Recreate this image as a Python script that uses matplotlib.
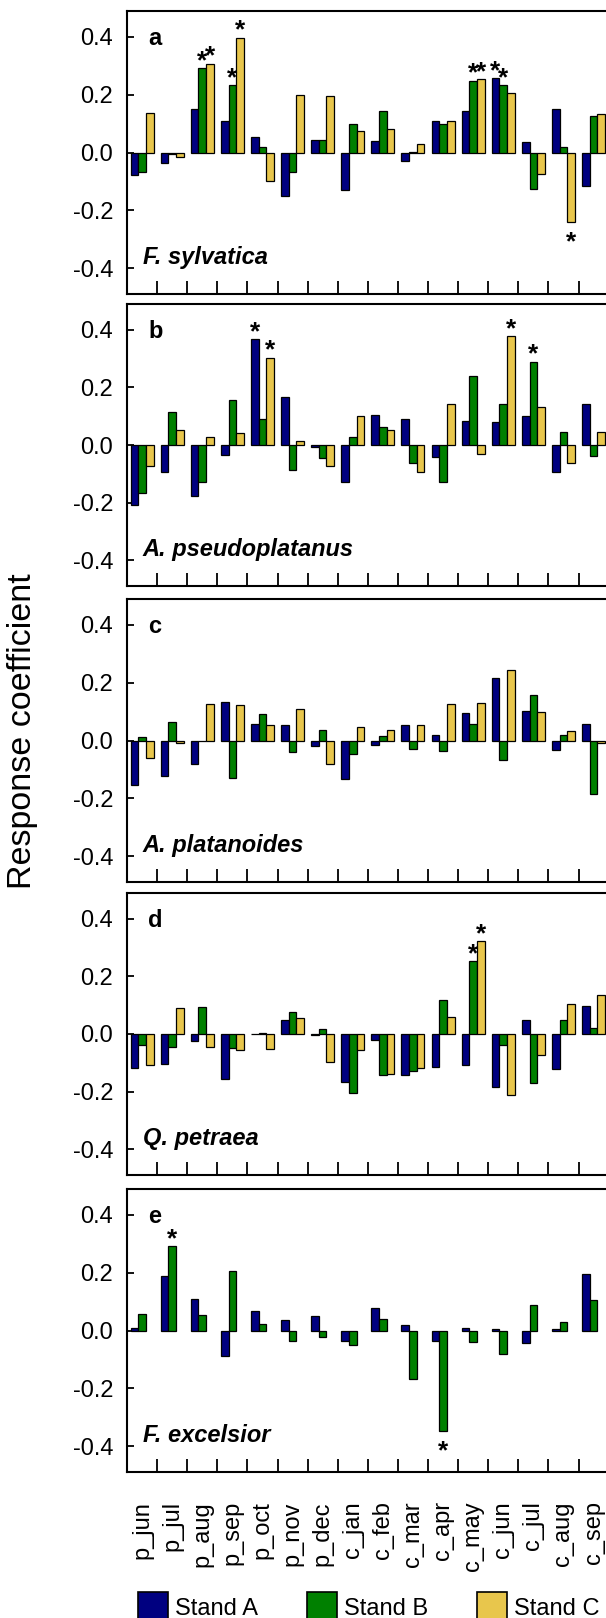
import numpy as np
import matplotlib
matplotlib.use("Agg")
import matplotlib.pyplot as plt
from matplotlib.patches import Rectangle

plt.rcParams['font.family'] = ['Liberation Sans', 'DejaVu Sans']

months = ["p_jun", "p_jul", "p_aug", "p_sep", "p_oct", "p_nov", "p_dec", "c_jan",
          "c_feb", "c_mar", "c_apr", "c_may", "c_jun", "c_jul", "c_aug", "c_sep"]
series_names = ["Stand A", "Stand B", "Stand C"]
series_colors = ["#000080", "#008000", "#E8C64C"]
panel_letters = ["a", "b", "c", "d", "e"]
species = ["F. sylvatica", "A. pseudoplatanus", "A. platanoides", "Q. petraea", "F. excelsior"]

# panel a: F. sylvatica
a_A = [-0.078, -0.035, 0.149, 0.110, 0.053, -0.151, 0.045, -0.131, 0.039, -0.030, 0.110, 0.145, 0.257, 0.036, 0.151, -0.116]
a_B = [-0.069, -0.004, 0.291, 0.233, 0.020, -0.069, 0.045, 0.097, 0.143, 0.002, 0.097, 0.249, 0.233, -0.128, 0.018, 0.126]
a_C = [0.137, -0.016, 0.308, 0.398, -0.099, 0.198, 0.195, 0.074, 0.083, 0.029, 0.110, 0.253, 0.206, -0.073, -0.240, 0.135]
# panel b: A. pseudoplatanus
b_A = [-0.209, -0.093, -0.177, -0.034, 0.368, 0.166, -0.008, -0.130, 0.104, 0.089, -0.043, 0.082, 0.079, 0.102, -0.094, 0.141]
b_B = [-0.166, 0.114, -0.130, 0.158, 0.089, -0.088, -0.046, 0.029, 0.061, -0.064, -0.130, 0.241, 0.144, 0.290, 0.044, -0.037]
b_C = [-0.072, 0.051, 0.027, 0.043, 0.304, 0.015, -0.072, 0.102, 0.051, -0.093, 0.143, -0.030, 0.379, 0.131, -0.064, 0.044]
# panel c: A. platanoides
c_A = [-0.155, -0.124, -0.081, 0.135, 0.057, 0.054, -0.020, -0.134, -0.016, 0.055, 0.018, 0.095, 0.216, 0.102, -0.034, 0.058]
c_B = [0.013, 0.064, 0.000, -0.129, 0.091, -0.039, 0.036, -0.046, 0.017, -0.030, -0.036, 0.058, -0.066, 0.156, 0.020, -0.184]
c_C = [-0.059, -0.008, 0.128, 0.124, 0.054, 0.109, -0.080, 0.046, 0.035, 0.055, 0.126, 0.131, 0.244, 0.098, 0.032, -0.008]
# panel d: Q. petraea
d_A = [-0.118, -0.104, -0.026, -0.157, 0.000, 0.048, -0.005, -0.166, -0.022, -0.143, -0.113, -0.106, -0.184, 0.049, -0.122, 0.099]
d_B = [-0.037, -0.045, 0.093, -0.048, 0.002, 0.077, 0.019, -0.206, -0.141, -0.127, 0.117, 0.252, -0.038, -0.171, 0.049, 0.021]
d_C = [-0.106, 0.092, -0.045, -0.057, -0.052, 0.057, -0.096, -0.055, -0.139, -0.119, 0.059, 0.322, -0.211, -0.073, 0.104, 0.135]
# panel e: F. excelsior (no Stand C)
e_A = [0.008, 0.189, 0.110, -0.087, 0.067, 0.037, 0.051, -0.038, 0.078, 0.020, -0.038, 0.008, 0.005, -0.044, 0.005, 0.197]
e_B = [0.056, 0.292, 0.052, 0.206, 0.022, -0.037, -0.021, -0.049, 0.041, -0.167, -0.347, -0.039, -0.080, 0.088, 0.031, 0.107]

panel_data = [[a_A, a_B, a_C], [b_A, b_B, b_C], [c_A, c_B, c_C], [d_A, d_B, d_C], [e_A, e_B, None]]

# significance stars: (month index, series index)
a_stars = [(2, 1), (2, 2), (3, 1), (3, 2), (11, 1), (11, 2), (12, 0), (12, 1), (14, 2)]
b_stars = [(4, 0), (4, 2), (12, 2), (13, 1)]
c_stars = []
d_stars = [(11, 1), (11, 2)]
e_stars = [(1, 1), (10, 1)]
panel_stars = [a_stars, b_stars, c_stars, d_stars, e_stars]

yticks = [-0.4, -0.2, 0.0, 0.2, 0.4]

W, H = 606, 1618
fig = plt.figure(figsize=(W / 100, H / 100), dpi=100)

panel_px = [(11, 294), (304, 586), (599, 882), (893, 1175), (1189, 1472)]
left_px, right_px = 127, 608.6
FS = 17
x = np.arange(len(months))
bw = 0.255
offsets = [-bw, 0.0, bw]

for p, (top, bot) in enumerate(panel_px):
    ax = fig.add_axes([left_px / W, 1 - bot / H, (right_px - left_px) / W, (bot - top) / H])
    for s in range(3):
        vals = panel_data[p][s]
        if vals is None:
            continue
        ax.bar(x + offsets[s], vals, width=bw, color=series_colors[s],
               edgecolor="black", linewidth=0.9, zorder=2)
    for (m, s) in panel_stars[p]:
        v = panel_data[p][s][m]
        off = 0 if v >= 0 else -20
        ax.annotate("*", (x[m] + offsets[s], v), xytext=(0, off), textcoords="offset points",
                    ha="center", va="baseline", fontsize=19, fontweight="bold", zorder=3)
    ax.set_xlim(-0.5, len(months) - 0.5)
    ax.set_ylim(-0.49, 0.49)
    ax.set_yticks(yticks)
    ax.set_yticklabels([f"{t:.1f}" for t in yticks], fontsize=FS)
    ax.set_xticks(np.arange(len(months) + 1) - 0.5)
    ax.set_xticklabels([])
    ax.tick_params(axis="x", which="major", direction="in", length=9.5, width=1.3)
    ax.tick_params(axis="y", which="major", direction="in", length=5, width=1.3, pad=10)
    if p == len(panel_px) - 1:
        ax.set_xticks(x, minor=True)
        ax.set_xticklabels(months, minor=True, rotation=90, fontsize=FS)
        ax.tick_params(axis="x", which="minor", length=0, pad=21)
    for sp in ax.spines.values():
        sp.set_linewidth(1.5)
    ax.text(0.0436, 0.373, panel_letters[p], transform=ax.get_yaxis_transform(),
            fontsize=FS, fontweight="bold", va="baseline", ha="left")
    ax.text(0.033, -0.385, species[p], transform=ax.get_yaxis_transform(),
            fontsize=FS, fontweight="bold", fontstyle="italic", va="baseline", ha="left")

fig.text(23 / W, 1 - 731 / H, "Response coefficient", rotation=90, fontsize=24.5,
         ha="center", va="center")

# legend drawn at the bottom
leg_px = [138, 307, 477]
for s in range(3):
    fig.add_artist(Rectangle((leg_px[s] / W, 1 - 1622 / H), 30 / W, 30 / H,
                             transform=fig.transFigure, facecolor=series_colors[s],
                             edgecolor="black", linewidth=1.2))
    fig.text((leg_px[s] + 37) / W, 1 - 1615 / H, series_names[s], fontsize=FS,
             ha="left", va="baseline")

fig.savefig("out.png", dpi=100)
